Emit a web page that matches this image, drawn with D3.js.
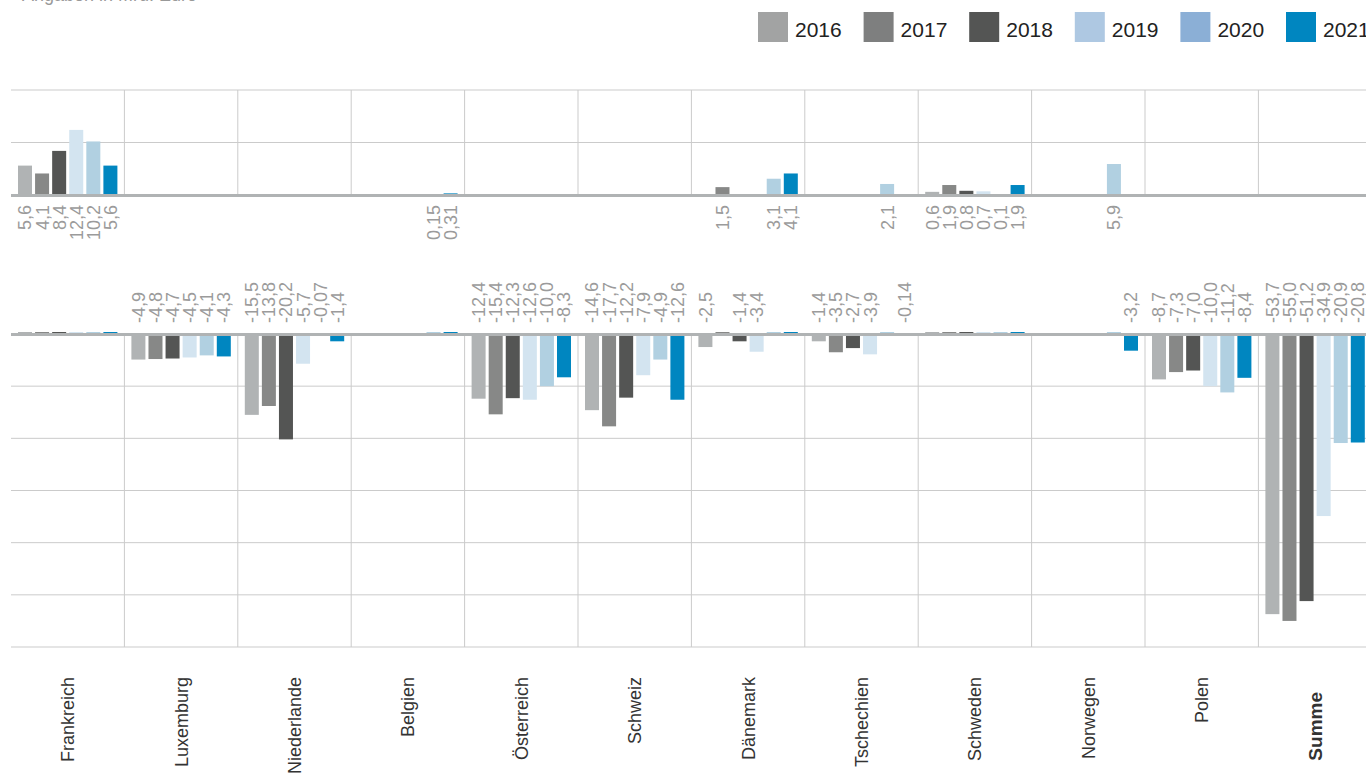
<!DOCTYPE html>
<html>
<head>
<meta charset="utf-8">
<script src="https://cdn.jsdelivr.net/npm/d3@7"></script>
<style>
  body { margin: 0; background: #fff; overflow: hidden; }
  svg { display: block; font-family: "Liberation Sans", Arial, sans-serif; }
  .grid line { stroke: #cbcbcb; stroke-width: 1; }
  .base { stroke: #b0b3b4; stroke-width: 3; }
  .val { fill: #9b9b9b; font-size: 18px; }
  .cat { fill: #333; font-size: 18px; }
  .leg { fill: #222; font-size: 21px; }
</style>
</head>
<body>
<div id="chart"></div>
<script>
// Daten (Saldo je Land und Jahr)
const categories = ["Frankreich", "Luxemburg", "Niederlande", "Belgien", "Österreich", "Schweiz",
  "Dänemark", "Tschechien", "Schweden", "Norwegen", "Polen", "Summe"];
const years = ["2016", "2017", "2018", "2019", "2020", "2021"];

const v2016 = [5.6, -4.9, -15.5, null, -12.4, -14.6, -2.5, -1.4, 0.6, null, -8.7, -53.7];
const v2017 = [4.1, -4.8, -13.8, null, -15.4, -17.7, 1.5, -3.5, 1.9, null, -7.3, -55.0];
const v2018 = [8.4, -4.7, -20.2, null, -12.3, -12.2, -1.4, -2.7, 0.8, null, -7.0, -51.2];
const v2019 = [12.4, -4.5, -5.7, null, -12.6, -7.9, -3.4, -3.9, 0.7, null, -10.0, -34.9];
const v2020 = [10.2, -4.1, -0.07, 0.15, -10.0, -4.9, 3.1, 2.1, 0.1, 5.9, -11.2, -20.9];
const v2021 = [5.6, -4.3, -1.4, 0.31, -8.3, -12.6, 4.1, -0.14, 1.9, -3.2, -8.4, -20.8];

const upperTicks = [10, 20];
const lowerTicks = [-10, -20, -30, -40, -50, -60];

const barColors = ["#b0b3b4", "#878887", "#545554", "#d3e4f0", "#b1d0e1", "#0086c0"];
const legendColors = ["#a2a3a3", "#7e7f7f", "#545554", "#aec8e2", "#8bafd6", "#0086c0"];

const series = [v2016, v2017, v2018, v2019, v2020, v2021];

const rows = [];
categories.forEach((c, i) => {
  years.forEach((y, j) => {
    rows.push({cat: c, year: y, value: series[j][i]});
  });
});
const present = rows.filter(d => d.value != null);

const width = 1366, height = 777;
const svg = d3.select("#chart").append("svg")
  .attr("width", width)
  .attr("height", height);

const de = d3.formatLocale({decimal: ",", thousands: ".", grouping: [3], currency: ["", " €"], minus: "-"});
const f1 = de.format(".1f"), f2 = de.format(".2f");
const fmt = v => Math.abs(Math.round(v * 10) - v * 10) < 1e-9 ? f1(v) : f2(v);

const x0 = d3.scaleBand().domain(categories).range([11, 11 + 12 * 113.4]);
const x1 = d3.scaleBand().domain(years).range([7, x0.bandwidth() - 7]).paddingInner(0.18);
const cx = d => x0(d.cat) + x1(d.year);

const yUp = d3.scaleLinear().domain([0, 20]).range([195, 90]);
const yLo = d3.scaleLinear().domain([0, -60]).range([334, 647]);

// Titelzeile (oben abgeschnitten)
svg.append("text")
  .attr("x", 22).attr("y", 1)
  .style("fill", "#999").style("font-size", "18px")
  .text("Angaben in Mrd. Euro");

// Legende
const leg = svg.append("g").selectAll("g")
  .data(years)
  .join("g")
  .attr("transform", (d, i) => `translate(${758 + i * 105.6},12)`);
leg.append("rect").attr("width", 30).attr("height", 30).attr("fill", (d, i) => legendColors[i]);
leg.append("text").attr("class", "leg").attr("x", 37).attr("y", 25).text(d => d);

// Gitter oben
const gUp = svg.append("g").attr("class", "grid");
gUp.selectAll("line.h").data(upperTicks).join("line")
  .attr("x1", 11).attr("x2", width)
  .attr("y1", d => yUp(d)).attr("y2", d => yUp(d));
gUp.selectAll("line.v").data(categories.slice(1)).join("line")
  .attr("x1", d => x0(d)).attr("x2", d => x0(d))
  .attr("y1", yUp(20)).attr("y2", yUp(0));

// Gitter unten
const gLo = svg.append("g").attr("class", "grid");
gLo.selectAll("line.h").data(lowerTicks).join("line")
  .attr("x1", 11).attr("x2", width)
  .attr("y1", d => yLo(d)).attr("y2", d => yLo(d));
gLo.selectAll("line.v").data(categories.slice(1)).join("line")
  .attr("x1", d => x0(d)).attr("x2", d => x0(d))
  .attr("y1", yLo(0)).attr("y2", yLo(-60));

// Balken oben (positive Werte)
const pos = present.filter(d => d.value > 0);
svg.append("g").selectAll("rect")
  .data(pos)
  .join("rect")
  .attr("x", cx)
  .attr("width", x1.bandwidth())
  .attr("y", d => yUp(d.value))
  .attr("height", d => Math.max(1, yUp(0) - yUp(d.value)))
  .attr("fill", d => barColors[years.indexOf(d.year)]);

// Balken unten (negative Werte), positive nur als Strich
const neg = present.filter(d => d.value < 0);
svg.append("g").selectAll("rect")
  .data(neg)
  .join("rect")
  .attr("x", cx)
  .attr("width", x1.bandwidth())
  .attr("y", yLo(0))
  .attr("height", d => yLo(d.value) - yLo(0))
  .attr("fill", d => barColors[years.indexOf(d.year)]);
svg.append("g").selectAll("rect")
  .data(pos)
  .join("rect")
  .attr("x", cx)
  .attr("width", x1.bandwidth())
  .attr("y", yLo(0) - 2)
  .attr("height", 1.5)
  .attr("fill", d => barColors[years.indexOf(d.year)]);

// Nulllinien
svg.append("line").attr("class", "base")
  .attr("x1", 11).attr("x2", width).attr("y1", yUp(0) + 0.5).attr("y2", yUp(0) + 0.5);
svg.append("line").attr("class", "base")
  .attr("x1", 11).attr("x2", width).attr("y1", yLo(0) + 0.5).attr("y2", yLo(0) + 0.5);

// Wertbeschriftungen
svg.append("g").selectAll("text")
  .data(pos)
  .join("text")
  .attr("class", "val")
  .attr("transform", d => `translate(${cx(d) + x1.bandwidth() / 2},${yUp(0) + 10}) rotate(-90)`)
  .attr("dy", "0.36em")
  .style("text-anchor", "end")
  .text(d => fmt(d.value));

svg.append("g").selectAll("text")
  .data(neg)
  .join("text")
  .attr("class", "val")
  .attr("transform", d => `translate(${cx(d) + x1.bandwidth() / 2},${yLo(0) - 11}) rotate(-90)`)
  .attr("dy", "0.36em")
  .style("text-anchor", "start")
  .text(d => fmt(d.value));

// Länder
svg.append("g").selectAll("text")
  .data(categories)
  .join("text")
  .attr("class", "cat")
  .attr("transform", d => `translate(${x0(d) + x0.bandwidth() / 2},${d === "Summe" ? 692 : 677}) rotate(-90)`)
  .attr("dy", "0.36em")
  .style("text-anchor", "end")
  .style("font-weight", d => d === "Summe" ? "bold" : null)
  .style("font-size", d => d === "Summe" ? "19px" : null)
  .text(d => d);
</script>
</body>
</html>
